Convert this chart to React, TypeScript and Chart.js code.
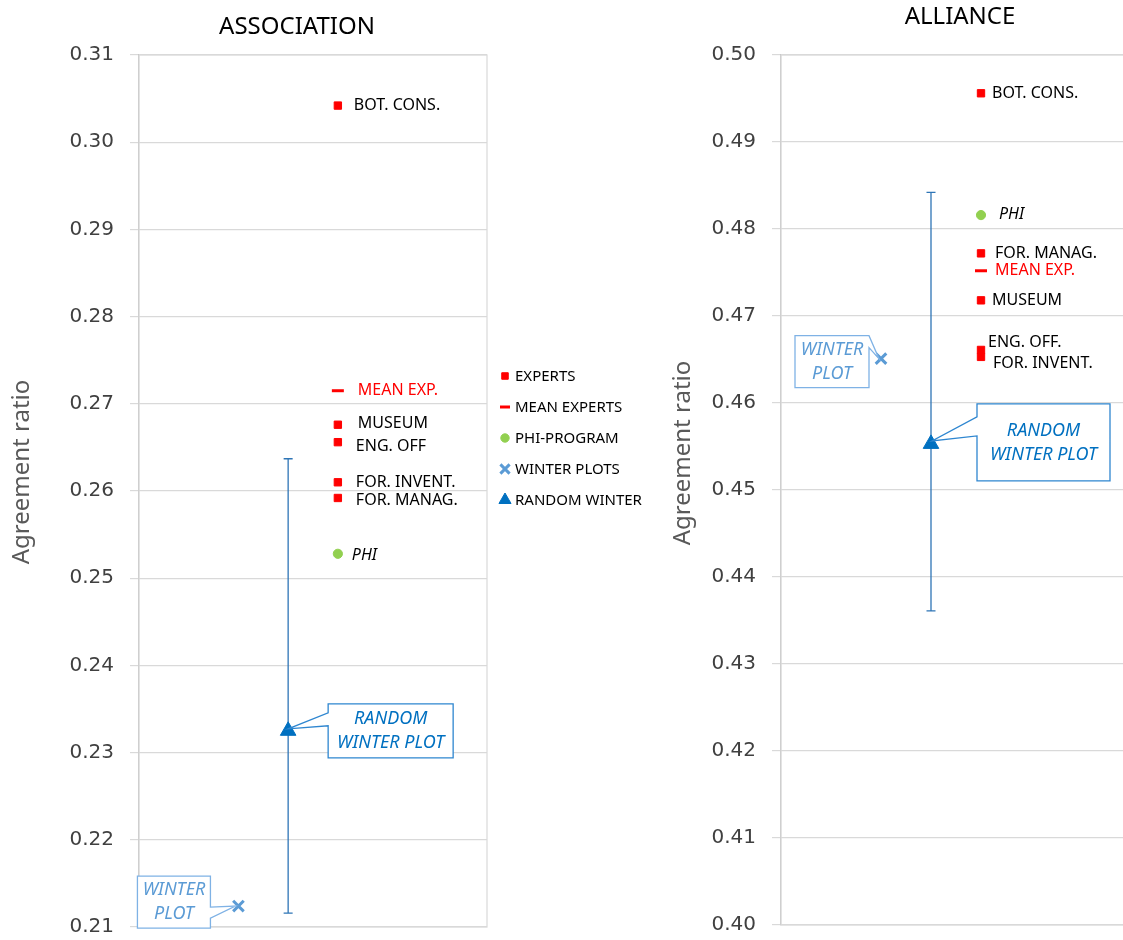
import React, { useEffect, useRef } from 'react';
import { Chart, registerables } from 'chart.js';
import { drawPoint } from 'chart.js/helpers';

Chart.register(...registerables);

// ---------- DATA ----------
const SERIES_NAMES = ['EXPERTS', 'MEAN EXPERTS', 'PHI-PROGRAM', 'WINTER PLOTS', 'RANDOM WINTER'];
const SERIES_X = [4, 4, 4, 2, 3];

// ASSOCIATION panel
const assocExpertLabels = ['BOT. CONS.', 'MUSEUM', 'ENG. OFF', 'FOR. INVENT.', 'FOR. MANAG.'];
const assocExpertValues = [0.3042, 0.2676, 0.2656, 0.261, 0.2592];
const assocMeanValues = [0.2715];
const assocPhiValues = [0.2528];
const assocWinterValues = [0.2124];
const assocRandomValues = [0.2325];
const assocRandomLow = [0.2116];
const assocRandomHigh = [0.2637];
const assocYRange = [0.21, 0.31];

// ALLIANCE panel
const allianceExpertLabels = ['BOT. CONS.', 'FOR. MANAG.', 'MUSEUM', 'ENG. OFF.', 'FOR. INVENT.'];
const allianceExpertValues = [0.4956, 0.4772, 0.4718, 0.4661, 0.4653];
const allianceMeanValues = [0.4752];
const alliancePhiValues = [0.4816];
const allianceWinterValues = [0.4651];
const allianceRandomValues = [0.4553];
const allianceRandomLow = [0.4361];
const allianceRandomHigh = [0.4842];
const allianceYRange = [0.4, 0.5];

const TICK_STEP = 0.01;
const MEAN_LABEL = ['MEAN EXP.'];
const PHI_LABEL = ['PHI'];
const AXIS_TITLE = 'Agreement ratio';
const CALLOUT_RANDOM = ['RANDOM', 'WINTER PLOT'];
const CALLOUT_WINTER = ['WINTER', 'PLOT'];

// ---------- STYLE ----------
const SERIES_STYLE = [
  { pointStyle: 'rect', radius: 5.2, color: '#FF0000', borderWidth: 1, legendRadius: 4.6 },
  { pointStyle: 'line', radius: 6, color: '#FF0000', borderWidth: 3, legendRadius: 5 },
  { pointStyle: 'circle', radius: 4.6, color: '#92D050', borderWidth: 1, legendRadius: 4.2 },
  { pointStyle: 'crossRot', radius: 7.5, color: '#5B9BD5', borderWidth: 3, legendRadius: 6.5 },
  { pointStyle: 'triangle', radius: 9, color: '#0070C0', borderWidth: 1, legendRadius: 7 },
];
const LABEL_FONT = '16px "Noto Sans"';
const LABEL_FONT_ITALIC = 'italic 16px "Noto Sans"';

function buildDatasets(d: any) {
  const values = [d.experts, d.mean, d.phi, d.winter, d.random];
  const labels = [d.expertLabels, MEAN_LABEL, PHI_LABEL, [], []];
  const labelColor = ['#000000', '#FF0000', '#000000', '#000000', '#000000'];
  const labelFont = [LABEL_FONT, LABEL_FONT, LABEL_FONT_ITALIC, LABEL_FONT, LABEL_FONT];
  return values.map((vals: number[], i: number) => {
    const s = SERIES_STYLE[i];
    return {
      label: SERIES_NAMES[i],
      data: vals.map((v) => ({ x: SERIES_X[i], y: v })),
      pointStyle: s.pointStyle,
      pointRadius: s.radius,
      pointHoverRadius: s.radius,
      pointBackgroundColor: s.color,
      pointBorderColor: s.color,
      backgroundColor: s.color,
      borderColor: s.color,
      pointBorderWidth: s.borderWidth,
      showLine: false,
      pointLabels: labels[i],
      labelColor: labelColor[i],
      labelFont: labelFont[i],
      labelOffsets: d.offsets[i] || [],
      errLow: i === 4 ? d.randomLow : undefined,
      errHigh: i === 4 ? d.randomHigh : undefined,
    };
  });
}

// ---------- PLUGINS ----------
const plotBorderPlugin = {
  id: 'plotBorder',
  beforeDatasetsDraw(chart: any) {
    const { ctx, chartArea: a } = chart;
    ctx.save();
    ctx.strokeStyle = '#d9d9d9';
    ctx.lineWidth = 1.2;
    ctx.strokeRect(a.left, a.top, a.right - a.left, a.bottom - a.top);
    ctx.restore();
  },
};

const errorBarPlugin = {
  id: 'errorBars',
  beforeDatasetsDraw(chart: any) {
    const { ctx } = chart;
    const yScale = chart.scales.y;
    chart.data.datasets.forEach((ds: any, i: number) => {
      if (!ds.errLow) return;
      const meta = chart.getDatasetMeta(i);
      meta.data.forEach((pt: any, j: number) => {
        const yLo = yScale.getPixelForValue(ds.errLow[j]);
        const yHi = yScale.getPixelForValue(ds.errHigh[j]);
        ctx.save();
        ctx.strokeStyle = '#2E75B6';
        ctx.lineWidth = 1.3;
        ctx.beginPath();
        ctx.moveTo(pt.x, yLo);
        ctx.lineTo(pt.x, yHi);
        ctx.moveTo(pt.x - 4.5, yLo);
        ctx.lineTo(pt.x + 4.5, yLo);
        ctx.moveTo(pt.x - 4.5, yHi);
        ctx.lineTo(pt.x + 4.5, yHi);
        ctx.stroke();
        ctx.restore();
      });
    });
  },
};

const pointLabelPlugin = {
  id: 'pointLabels',
  afterDatasetsDraw(chart: any) {
    const { ctx } = chart;
    chart.data.datasets.forEach((ds: any, i: number) => {
      if (!ds.pointLabels || !ds.pointLabels.length) return;
      const meta = chart.getDatasetMeta(i);
      ctx.save();
      ctx.font = ds.labelFont;
      ctx.fillStyle = ds.labelColor;
      ctx.textAlign = 'left';
      ctx.textBaseline = 'middle';
      meta.data.forEach((pt: any, j: number) => {
        const off = ds.labelOffsets[j] || [16, 0];
        ctx.fillText(ds.pointLabels[j], pt.x + off[0], pt.y + off[1]);
      });
      ctx.restore();
    });
  },
};

const calloutPlugin = {
  id: 'callouts',
  afterDatasetsDraw(chart: any, _args: any, opts: any) {
    const { ctx } = chart;
    (opts.items || []).forEach((c: any) => {
      const pt = chart.getDatasetMeta(c.datasetIndex).data[c.index];
      if (!pt) return;
      const x0 = pt.x + c.box[0];
      const y0 = pt.y + c.box[1];
      const w = c.box[2];
      const h = c.box[3];
      const tx = pt.x + c.tip[0];
      const ty = pt.y + c.tip[1];
      ctx.save();
      ctx.beginPath();
      if (c.side === 'left') {
        ctx.moveTo(x0, y0);
        ctx.lineTo(x0 + w, y0);
        ctx.lineTo(x0 + w, y0 + h);
        ctx.lineTo(x0, y0 + h);
        ctx.lineTo(x0, y0 + c.b);
        ctx.lineTo(tx, ty);
        ctx.lineTo(x0, y0 + c.a);
        ctx.closePath();
      } else {
        ctx.moveTo(x0, y0);
        ctx.lineTo(x0 + w, y0);
        ctx.lineTo(x0 + w, y0 + c.a);
        ctx.lineTo(tx, ty);
        ctx.lineTo(x0 + w, y0 + c.b);
        ctx.lineTo(x0 + w, y0 + h);
        ctx.lineTo(x0, y0 + h);
        ctx.closePath();
      }
      ctx.fillStyle = '#ffffff';
      ctx.fill();
      ctx.strokeStyle = c.border;
      ctx.lineWidth = 1.3;
      ctx.stroke();
      ctx.fillStyle = c.color;
      ctx.font = 'italic 18px "Noto Sans"';
      ctx.textAlign = 'center';
      ctx.textBaseline = 'middle';
      const cx = x0 + w / 2;
      const cy = y0 + h / 2;
      ctx.fillText(c.lines[0], cx, cy - 12);
      ctx.fillText(c.lines[1], cx, cy + 12);
      ctx.restore();
    });
  },
};

const textPlugin = {
  id: 'panelTexts',
  afterDraw(chart: any, _args: any, opts: any) {
    const { ctx } = chart;
    ctx.save();
    ctx.fillStyle = '#000000';
    ctx.font = '24px "Noto Sans"';
    ctx.textAlign = 'center';
    ctx.textBaseline = 'middle';
    ctx.fillText(opts.title, opts.titleX, opts.titleY);
    ctx.translate(opts.axisX, opts.axisY);
    ctx.rotate(-Math.PI / 2);
    ctx.fillStyle = '#595959';
    ctx.font = '24px "Noto Sans"';
    ctx.fillText(AXIS_TITLE, 0, 0);
    ctx.restore();
  },
};

const legendPlugin = {
  id: 'sideLegend',
  afterDraw(chart: any, _args: any, opts: any) {
    if (!opts.show) return;
    const { ctx } = chart;
    ctx.save();
    chart.data.datasets.forEach((ds: any, i: number) => {
      const s = SERIES_STYLE[i];
      const y = opts.y + i * opts.rowH;
      ctx.fillStyle = s.color;
      ctx.strokeStyle = s.color;
      ctx.lineWidth = s.borderWidth;
      drawPoint(ctx, { pointStyle: s.pointStyle, radius: s.legendRadius, borderWidth: s.borderWidth, rotation: 0 } as any, opts.x, y);
      ctx.fillStyle = '#000000';
      ctx.font = '15px "Noto Sans"';
      ctx.textAlign = 'left';
      ctx.textBaseline = 'middle';
      ctx.fillText(ds.label, opts.x + 10, y + 1);
    });
    ctx.restore();
  },
};

function makeConfig(p: any): any {
  return {
    type: 'scatter',
    data: { datasets: buildDatasets(p.data) },
    options: {
      animation: false,
      responsive: false,
      devicePixelRatio: 1,
      events: [],
      layout: { padding: p.padding, autoPadding: false },
      plugins: {
        legend: { display: false },
        tooltip: { enabled: false },
        title: { display: false },
        callouts: { items: p.callouts },
        panelTexts: p.texts,
        sideLegend: p.legend,
      },
      scales: {
        x: { type: 'linear', min: 0, max: 7, display: false },
        y: {
          type: 'linear',
          min: p.yRange[0],
          max: p.yRange[1],
          afterFit: (s: any) => {
            s.width = p.axisWidth;
            s.paddingTop = 0;
            s.paddingBottom = 0;
          },
          ticks: {
            stepSize: TICK_STEP,
            callback: (v: number) => v.toFixed(2),
            font: { family: 'DejaVu Sans', size: 20 },
            color: '#404040',
            padding: 16,
          },
          grid: { color: '#d9d9d9', tickLength: 9, drawTicks: true, lineWidth: 1.2 },
          border: { color: '#bfbfbf', width: 1.2 },
        },
      },
    },
    plugins: [plotBorderPlugin, errorBarPlugin, pointLabelPlugin, calloutPlugin, textPlugin, legendPlugin],
  };
}

const assocConfig = () =>
  makeConfig({
    data: {
      experts: assocExpertValues,
      expertLabels: assocExpertLabels,
      mean: assocMeanValues,
      phi: assocPhiValues,
      winter: assocWinterValues,
      random: assocRandomValues,
      randomLow: assocRandomLow,
      randomHigh: assocRandomHigh,
      offsets: {
        0: [[16, 0], [20, -1], [18, 4], [18, 0], [18, 2]],
        1: [[20, 0]],
        2: [[14, 2]],
      },
    },
    yRange: assocYRange,
    axisWidth: 139,
    padding: { left: 0, top: 55, right: 173, bottom: 13 },
    callouts: [
      { datasetIndex: 4, index: 0, lines: CALLOUT_RANDOM, color: '#0070C0', border: '#2E86D0', box: [40, -27, 125, 54], side: 'left', a: 9, b: 22, tip: [0, -2] },
      { datasetIndex: 3, index: 0, lines: CALLOUT_WINTER, color: '#5B9BD5', border: '#7FB2E5', box: [-101, -30, 73, 52], side: 'right', a: 31, b: 42, tip: [-3, 0] },
    ],
    texts: { title: 'ASSOCIATION', titleX: 297, titleY: 27, axisX: 22, axisY: 472 },
    legend: { show: true, x: 505, y: 376, rowH: 31 },
  });

const allianceConfig = () =>
  makeConfig({
    data: {
      experts: allianceExpertValues,
      expertLabels: allianceExpertLabels,
      mean: allianceMeanValues,
      phi: alliancePhiValues,
      winter: allianceWinterValues,
      random: allianceRandomValues,
      randomLow: allianceRandomLow,
      randomHigh: allianceRandomHigh,
      offsets: {
        0: [[11, 0], [14, 0], [11, 0], [7, -7], [12, 7]],
        1: [[14, 0]],
        2: [[18, -1]],
      },
    },
    yRange: allianceYRange,
    axisWidth: 121,
    padding: { left: 0, top: 55, right: 9, bottom: 15 },
    callouts: [
      { datasetIndex: 4, index: 0, lines: CALLOUT_RANDOM, color: '#0070C0', border: '#2E86D0', box: [46, -40, 133, 77], side: 'left', a: 13, b: 32, tip: [1, -3] },
      { datasetIndex: 3, index: 0, lines: CALLOUT_WINTER, color: '#5B9BD5', border: '#7FB2E5', box: [-86, -23, 74, 52], side: 'right', a: 0, b: 12, tip: [-2, 0] },
    ],
    texts: { title: 'ALLIANCE', titleX: 300, titleY: 17, axisX: 23, axisY: 453 },
    legend: { show: false },
  });

function ChartPanel({ config, left, width }: { config: () => any; left: number; width: number }) {
  const ref = useRef<HTMLCanvasElement>(null);
  useEffect(() => {
    if (!ref.current) return;
    const chart = new Chart(ref.current, config());
    return () => chart.destroy();
  }, [config]);
  return (
    <canvas
      ref={ref}
      width={width}
      height={940}
      style={{ position: 'absolute', left, top: 0, width, height: 940, display: 'block' }}
    />
  );
}

export default function App() {
  return (
    <div
      style={{
        position: 'fixed',
        left: 0,
        top: 0,
        width: 1123,
        height: 940,
        overflow: 'hidden',
        background: '#ffffff',
      }}
    >
      <ChartPanel config={assocConfig} left={0} width={660} />
      <ChartPanel config={allianceConfig} left={660} width={480} />
    </div>
  );
}
